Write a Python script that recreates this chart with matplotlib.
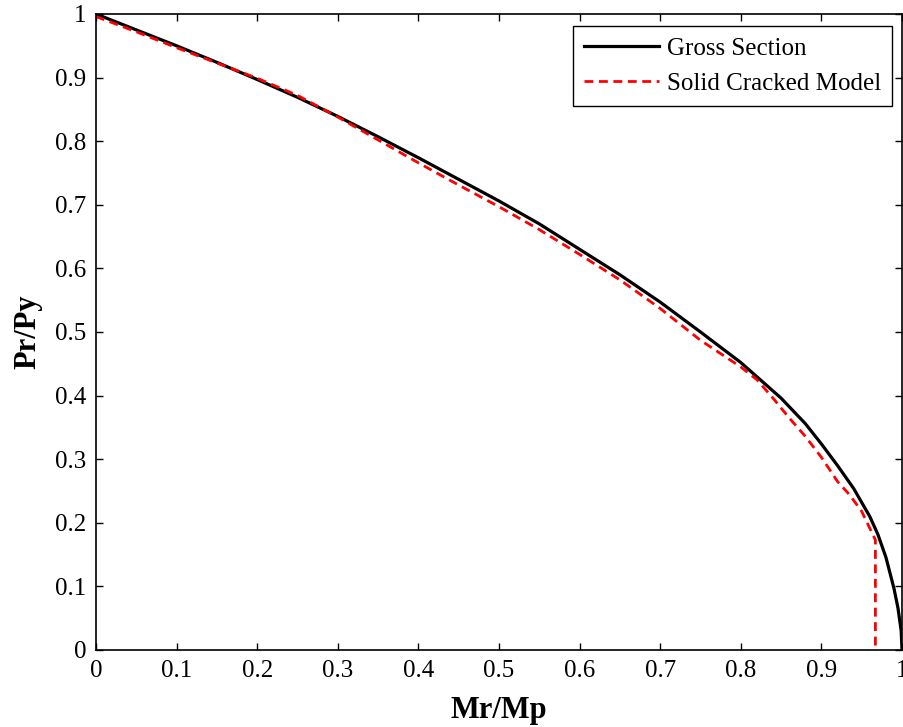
import numpy as np
import matplotlib.pyplot as plt

# interaction curve, gross section
gross_m = [0, 0.05, 0.1, 0.15, 0.2, 0.25, 0.3, 0.35, 0.4, 0.45, 0.5, 0.55, 0.6, 0.65,
           0.7, 0.75, 0.8, 0.85, 0.88, 0.9, 0.92, 0.94, 0.96, 0.97, 0.98, 0.99,
           0.995, 0.999, 1.0]
gross_p = [1.0, 0.975, 0.950, 0.924, 0.897, 0.869, 0.839, 0.807, 0.774, 0.740, 0.706,
           0.670, 0.630, 0.590, 0.547, 0.500, 0.452, 0.396, 0.356, 0.324, 0.290,
           0.254, 0.210, 0.182, 0.146, 0.097, 0.066, 0.030, 0.0]

# interaction curve, solid cracked model
cracked_m = [0, 0.05, 0.1, 0.15, 0.2, 0.25, 0.3, 0.35, 0.4, 0.45, 0.5, 0.55, 0.6,
             0.65, 0.7, 0.75, 0.8, 0.82, 0.84, 0.86, 0.88, 0.9, 0.92, 0.935, 0.95,
             0.967, 0.967]
cracked_p = [0.996, 0.972, 0.947, 0.923, 0.899, 0.872, 0.838, 0.802, 0.766, 0.731,
             0.697, 0.661, 0.622, 0.582, 0.537, 0.487, 0.445, 0.425, 0.396, 0.365,
             0.336, 0.303, 0.265, 0.244, 0.218, 0.173, 0.0]

ticks = np.round(np.arange(0, 1.01, 0.1), 1)
tick_labels = ['0', '0.1', '0.2', '0.3', '0.4', '0.5', '0.6', '0.7', '0.8', '0.9', '1']

plt.rcParams['font.family'] = ['Liberation Serif', 'DejaVu Serif']

fig = plt.figure(figsize=(9.04, 7.27), dpi=100)
ax = fig.add_axes([96 / 904, 77 / 727, 806 / 904, 636 / 727])

ax.plot(gross_m, gross_p, color='black', lw=2.3, label='Gross Section')
ax.plot(cracked_m, cracked_p, color='red', lw=2.0, dashes=(3.2, 2.0),
        label='Solid Cracked Model')

ax.set_xlim(0, 1)
ax.set_ylim(0, 1)
ax.set_xticks(ticks)
ax.set_xticklabels(tick_labels)
ax.set_yticks(ticks)
ax.set_yticklabels(tick_labels)
ax.tick_params(direction='in', length=5, width=1, top=True, right=True,
               labelsize=18, pad=7)
for s in ax.spines.values():
    s.set_linewidth(1.2)

ax.set_xlabel('Mr/Mp', fontsize=22, fontweight='bold', labelpad=10)
ax.set_ylabel('Pr/Py', fontsize=22, fontweight='bold', labelpad=9)

leg = ax.legend(loc='upper right', bbox_to_anchor=(0.988, 0.981), borderaxespad=0,
                fontsize=18, fancybox=False, framealpha=1, edgecolor='black',
                handlelength=3.0, handletextpad=0.32, borderpad=0.45, labelspacing=0.5)
leg.get_frame().set_linewidth(1.0)

fig.savefig('out.png', dpi=100)
